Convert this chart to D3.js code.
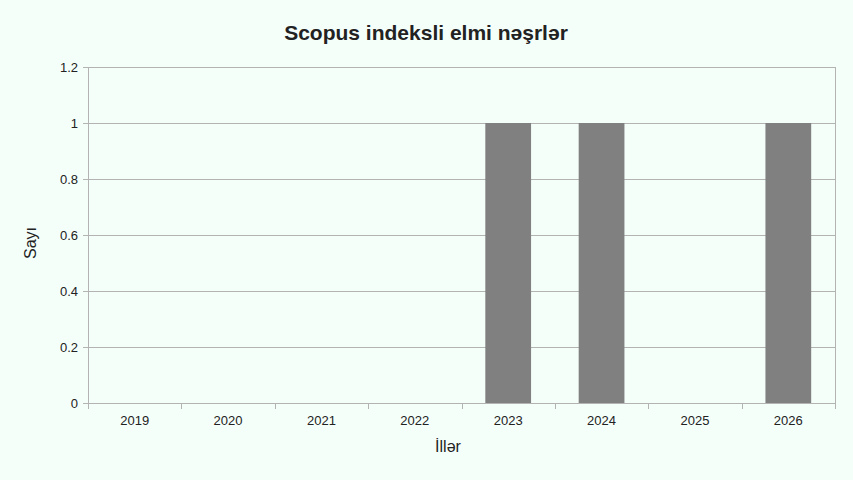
<!DOCTYPE html>
<html>
<head>
<meta charset="utf-8">
<script src="https://cdn.jsdelivr.net/npm/d3@7"></script>
<style>
  body { margin: 0; background: #f5fffa; }
  text { font-family: "Liberation Sans", Arial, sans-serif; fill: #222; }
</style>
</head>
<body>
<div id="chart"></div>
<script>
var years = ["2019", "2020", "2021", "2022", "2023", "2024", "2025", "2026"];
var counts = [0, 0, 0, 0, 1, 1, 0, 1];
var yTicks = [0, 0.2, 0.4, 0.6, 0.8, 1, 1.2];

var outerWidth = 853, outerHeight = 480;
var margin = { top: 67, right: 18, bottom: 77, left: 88 };
var width = outerWidth - margin.left - margin.right,
	height = outerHeight - margin.top - margin.bottom;

var svg = d3.select("#chart").append("svg")
	.attr("width", outerWidth)
	.attr("height", outerHeight);

svg.append("rect").attr("width", outerWidth).attr("height", outerHeight).attr("fill", "#f5fffa");

svg.append("text")
	.attr("x", outerWidth / 2 - 0.5)
	.attr("y", 40)
	.attr("text-anchor", "middle")
	.style("font-size", "21px")
	.style("font-weight", "bold")
	.text("Scopus indeksli elmi nəşrlər");

var g = svg.append("g").attr("transform", "translate(" + margin.left + "," + margin.top + ")");

var x = d3.scaleBand().domain(years).range([0, width]);
var y = d3.scaleLinear().domain([0, 1.2]).range([height, 0]);

// gridlines
g.append("g").selectAll("line").data(yTicks).enter().append("line")
	.attr("x1", -5).attr("x2", width)
	.attr("y1", function (d) { return Math.round(y(d)) + 0.5; })
	.attr("y2", function (d) { return Math.round(y(d)) + 0.5; })
	.attr("stroke", "#b3b3b3");

// bars
var bw = x.bandwidth() * 0.49;
g.append("g").selectAll("rect").data(years).enter().append("rect")
	.attr("x", function (d) { return x(d) + (x.bandwidth() - bw) / 2; })
	.attr("y", function (d, i) { return y(counts[i]); })
	.attr("width", bw)
	.attr("height", function (d, i) { return height - y(counts[i]); })
	.attr("fill", "#808080");

// frame lines
g.append("line").attr("x1", 0.5).attr("x2", 0.5).attr("y1", 0).attr("y2", height + 6).attr("stroke", "#b3b3b3");
g.append("line").attr("x1", width + 0.5).attr("x2", width + 0.5).attr("y1", 0).attr("y2", height + 6).attr("stroke", "#b3b3b3");

// x tick marks between categories
g.append("g").selectAll("line").data(years.slice(1)).enter().append("line")
	.attr("x1", function (d) { return Math.round(x(d)) + 0.5; })
	.attr("x2", function (d) { return Math.round(x(d)) + 0.5; })
	.attr("y1", height).attr("y2", height + 6)
	.attr("stroke", "#b3b3b3");

// y labels
g.append("g").selectAll("text").data(yTicks).enter().append("text")
	.attr("x", -10)
	.attr("y", function (d) { return y(d) + 4.5; })
	.attr("text-anchor", "end")
	.style("font-size", "13px")
	.text(function (d) { return d; });

// x labels
g.append("g").selectAll("text").data(years).enter().append("text")
	.attr("x", function (d) { return x(d) + x.bandwidth() / 2; })
	.attr("y", height + 22)
	.attr("text-anchor", "middle")
	.style("font-size", "13px")
	.text(function (d) { return d; });

svg.append("text")
	.attr("x", 448)
	.attr("y", 452)
	.attr("text-anchor", "middle")
	.style("font-size", "16px")
	.text("İllər");

svg.append("text")
	.attr("transform", "translate(36,243) rotate(-90)")
	.attr("text-anchor", "middle")
	.style("font-size", "16px")
	.text("Sayı");
</script>
</body>
</html>
